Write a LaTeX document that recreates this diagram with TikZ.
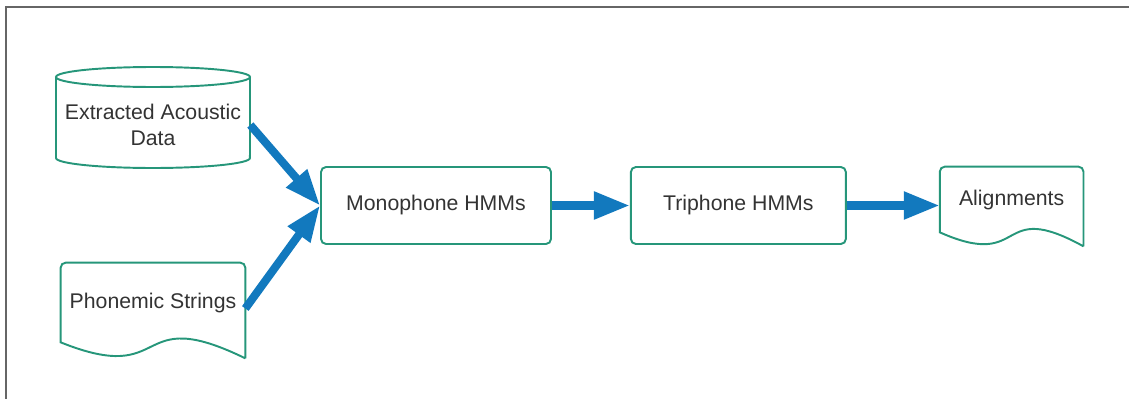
\documentclass[tikz,border=0pt]{standalone}
\usepackage{fontspec}
\setmainfont{Liberation Sans}
\usetikzlibrary{arrows.meta,positioning,calc}

\definecolor{lucidteal}{RGB}{38,150,122}
\definecolor{lucidblue}{RGB}{18,121,190}
\definecolor{inktext}{RGB}{51,51,51}

\begin{document}
\begin{tikzpicture}[x=0.02cm, y=-0.02cm,
    font=\fontsize{12.1}{14.7}\selectfont, text=inktext,
    box/.style={draw=lucidteal, line width=1.1pt, rounded corners=0.1cm, minimum height=1.54cm},
    doctext/.style={align=center, inner sep=0pt},
    outline/.style={draw=lucidteal, line width=1.1pt},
    flow/.style={draw=lucidblue, line width=4.6pt, -{Triangle[length=0.72cm, width=0.52cm]}},
    frame/.style={draw=black!60, line width=0.8pt}
]
\useasboundingbox (0,0) rectangle (1129,399);

% Frame (top and left edge only)
\draw[frame] (1129,7) -- (6,7) -- (6,399);

% Inputs
\node[doctext, minimum width=3.88cm, minimum height=1.62cm] (acoustic) at (153,125) {Extracted Acoustic\\Data};
\node[doctext, minimum width=3.68cm, minimum height=1.58cm] (phon) at (153,302.5) {Phonemic Strings};

% Models
\node[box, minimum width=4.6cm] (mono) at (436,205.5) {Monophone HMMs};
\node[box, minimum width=4.3cm, right=1.56cm of mono] (tri) {Triphone HMMs};

% Output
\node[doctext, minimum width=2.86cm, minimum height=1.3cm, right=1.86cm of tri, yshift=0.12cm] (align) {Alignments};

% Database outline
\draw[outline] (56,77) -- (56,158) arc[start angle=180, end angle=360, x radius=1.94cm, y radius=0.2cm] -- (250,77);
\draw[outline] (153,77) ellipse [x radius=1.94cm, y radius=0.2cm];

% Document outlines
\draw[outline] ([yshift=-0.32cm]phon.south east) [rounded corners=0.1cm] -- (phon.north east) -- (phon.north west) [sharp corners] -- (phon.south west)
    .. controls ($(phon.south west)+(112,45)$) and ($(phon.south west)+(70,-40)$) .. ([yshift=-0.32cm]phon.south east);
\draw[outline] ([yshift=-0.28cm]align.south east) [rounded corners=0.1cm] -- (align.north east) -- (align.north west) [sharp corners] -- (align.south west)
    .. controls ($(align.south west)+(88,39)$) and ($(align.south west)+(55,-35)$) .. ([yshift=-0.28cm]align.south east);

% Flow
\draw[flow] (acoustic.east) -- (mono.west);
\draw[flow] ([yshift=-0.12cm]phon.east) -- (mono.west);
\draw[flow] (mono) -- (tri);
\draw[flow] (tri.east) -- (tri.east -| align.west);

\end{tikzpicture}
\end{document}
